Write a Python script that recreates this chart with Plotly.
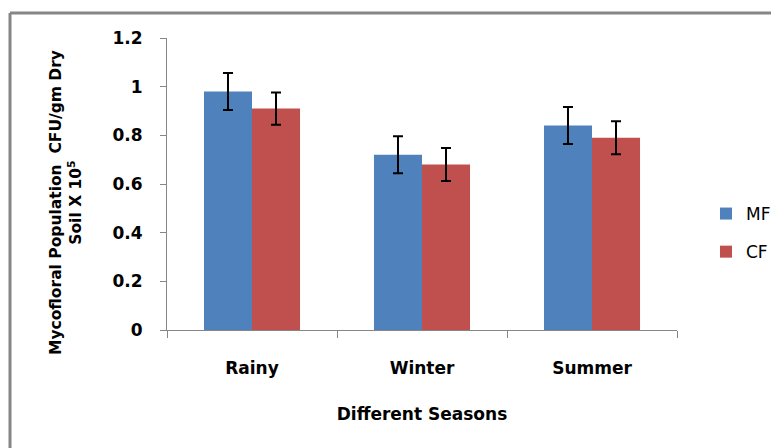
import plotly.graph_objects as go

seasons = ["Rainy", "Winter", "Summer"]
mf_values = [0.98, 0.72, 0.84]
cf_values = [0.91, 0.68, 0.79]
mf_err = [0.076, 0.076, 0.076]
cf_err = [0.066, 0.068, 0.068]
y_ticks = [0, 0.2, 0.4, 0.6, 0.8, 1, 1.2]

# page body has an 8px margin; compensate so the window matches the reference
OFF = 8
W, H = 779, 448
pw, ph = 510, 292
ML, MT = 167 - OFF, 38 - OFF
MR, MB = W - ML - pw, H - MT - ph

fig = go.Figure()
fig.add_trace(go.Bar(
    x=seasons, y=mf_values, name="MF", legendgroup="mf",
    marker=dict(color="#4F81BD", line=dict(width=0)),
    error_y=dict(type="data", array=mf_err, color="black", thickness=2, width=5),
))
fig.add_trace(go.Bar(
    x=seasons, y=cf_values, name="CF", legendgroup="cf",
    marker=dict(color="#C0504D", line=dict(width=0)),
    error_y=dict(type="data", array=cf_err, color="black", thickness=2, width=5),
))

def px2paper_x(px):
    return (px - OFF - ML) / pw

def px2paper_y(py):
    return (MT + ph - (py - OFF)) / ph

# outer chart border (left and top visible)
bx, by = px2paper_x(10), px2paper_y(13)
fig.add_shape(type="line", xref="paper", yref="paper", x0=bx, x1=bx, y0=by, y1=-1,
              line=dict(color="#868686", width=3))
fig.add_shape(type="line", xref="paper", yref="paper", x0=bx, x1=2, y0=by, y1=by,
              line=dict(color="#868686", width=3))

fig.add_annotation(
    xref="paper", yref="paper", x=px2paper_x(66), y=px2paper_y(203),
    xanchor="center", yanchor="middle",
    text="Mycofloral Population  CFU/gm Dry<br>Soil X 10<sup>5</sup>",
    textangle=-90, showarrow=False,
    font=dict(family="DejaVu Sans", size=15.5, color="black", weight="bold"),
)

fig.update_layout(
    width=W, height=H,
    margin=dict(l=ML, r=MR, t=MT, b=MB, autoexpand=False),
    paper_bgcolor="white", plot_bgcolor="white",
    barmode="group", bargap=0.435, bargroupgap=0,
    font=dict(family="DejaVu Sans", color="black"),
    showlegend=True,
    legend=dict(
        x=px2paper_x(706), y=px2paper_y(196), xanchor="left", yanchor="top",
        font=dict(family="DejaVu Sans", size=17, color="black"),
        tracegroupgap=13, bgcolor="rgba(0,0,0,0)",
    ),
    xaxis=dict(
        showline=True, linecolor="#868686", linewidth=1,
        ticks="outside", tickson="boundaries", ticklen=7, tickcolor="#868686",
        tickfont=dict(family="DejaVu Sans", size=17, color="black", weight="bold"),
        ticklabelstandoff=23,
        title=dict(text="Different Seasons", standoff=30,
                   font=dict(family="DejaVu Sans", size=17, color="black", weight="bold")),
        showgrid=False, fixedrange=True, automargin=False,
    ),
    yaxis=dict(
        range=[0, 1.2], tickvals=y_ticks, ticktext=[str(v) for v in y_ticks],
        showline=True, linecolor="#868686", linewidth=1,
        ticks="outside", ticklen=6, tickcolor="#868686",
        tickfont=dict(family="DejaVu Sans", size=17, color="black", weight="bold"),
        ticklabelstandoff=14,
        showgrid=False, zeroline=False, fixedrange=True, automargin=False,
    ),
)

fig.write_html("out.html")
